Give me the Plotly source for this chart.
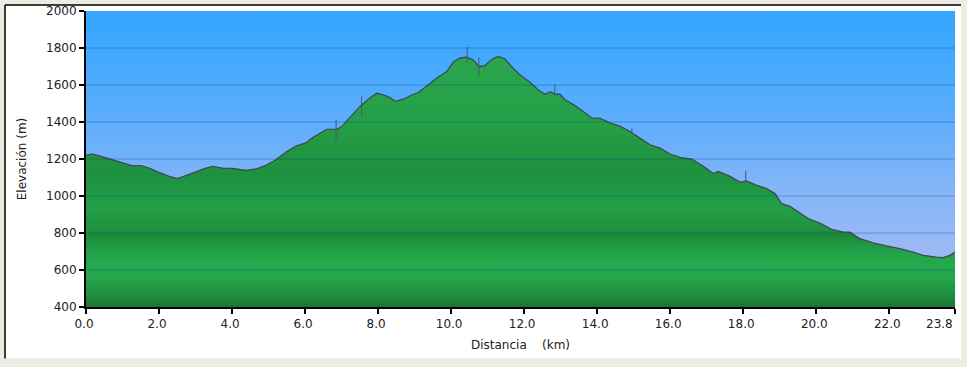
import plotly.graph_objects as go

# ---- data ----
dist_km = [0.0, 0.18, 0.46, 0.73, 1.0, 1.23, 1.51, 1.73, 2.0, 2.28, 2.51, 2.74, 3.01, 3.24, 3.47,
           3.74, 4.02, 4.38, 4.65, 4.93, 5.2, 5.48, 5.75, 6.03, 6.2, 6.41, 6.59, 6.87, 7.0, 7.23,
           7.5, 7.73, 7.96, 8.14, 8.33, 8.46, 8.69, 8.92, 9.1, 9.33, 9.6, 9.88, 10.06, 10.25,
           10.42, 10.6, 10.76, 10.92, 11.1, 11.28, 11.47, 11.65, 11.88, 12.16, 12.39, 12.57,
           12.71, 12.84, 12.98, 13.12, 13.35, 13.62, 13.85, 14.08, 14.35, 14.63, 14.9, 15.17,
           15.45, 15.72, 16.0, 16.27, 16.59, 16.91, 17.18, 17.32, 17.64, 17.91, 18.09, 18.37,
           18.64, 18.87, 19.05, 19.28, 19.51, 19.78, 20.1, 20.42, 20.74, 20.92, 21.19, 21.56,
           21.92, 22.29, 22.65, 22.93, 23.29, 23.47, 23.66, 23.8]
elev_m = [1220, 1228, 1212, 1196, 1182, 1166, 1164, 1151, 1128, 1106, 1094, 1112, 1130, 1148, 1160,
          1151, 1149, 1138, 1146, 1166, 1196, 1238, 1270, 1288, 1315, 1341, 1360, 1362, 1374, 1425,
          1483, 1523, 1555, 1546, 1532, 1512, 1523, 1546, 1559, 1595, 1637, 1673, 1724, 1746,
          1750, 1736, 1700, 1704, 1736, 1754, 1742, 1700, 1655, 1615, 1573, 1550,
          1564, 1551, 1550, 1520, 1494, 1457, 1422, 1420, 1395, 1376, 1349, 1313,
          1277, 1259, 1227, 1209, 1200, 1160, 1121, 1133, 1106, 1075, 1081, 1058,
          1040, 1013, 959, 944, 914, 878, 854, 820, 805, 804, 770, 746,
          730, 716, 697, 679, 670, 667, 679, 697]

# GPS spikes (thin vertical marks)
spike_km = [6.85, 7.55, 10.44, 10.76, 12.84, 14.95, 18.07]
spike_low = [1300, 1432, 1718, 1643, 1546, 1345, 1080]
spike_high = [1410, 1540, 1805, 1751, 1604, 1365, 1135]

x_tickvals = [0.0, 2.0, 4.0, 6.0, 8.0, 10.0, 12.0, 14.0, 16.0, 18.0, 20.0, 22.0, 23.8]
x_ticktext = ["0.0", "2.0", "4.0", "6.0", "8.0", "10.0", "12.0", "14.0", "16.0", "18.0",
              "20.0", "22.0", "23.8"]
y_tickvals = [400, 600, 800, 1000, 1200, 1400, 1600, 1800, 2000]

x_range = [0.0, 23.8]
y_range = [400, 2000]

FONT = "DejaVu Sans"
NB = "\u00a0"
TXT = "#222222"

# the last label (axis end) is right-aligned to its tick, drawn as an annotation
x_ticklabels = x_ticktext[:-1] + [""]

fig = go.Figure()

# sky background (vertical gradient over the whole plot area)
fig.add_trace(go.Scatter(
    x=x_range, y=[y_range[1], y_range[1]], mode="none", fill="tozeroy",
    fillgradient=dict(type="vertical", start=y_range[0], stop=y_range[1],
                      colorscale=[[0.0, "#aabdf0"], [0.2, "#9ab9f3"], [0.4, "#84b5f7"],
                                  [0.6, "#62aefb"], [0.8, "#48aafd"], [1.0, "#33a6ff"]]),
    hoverinfo="skip", showlegend=False))

# terrain profile
fig.add_trace(go.Scatter(
    x=dist_km, y=elev_m, mode="lines", fill="tozeroy",
    line=dict(color="#3e4b52", width=1.3),
    fillgradient=dict(type="vertical", start=y_range[0], stop=y_range[1],
                      colorscale=[[0.0, "#1a7632"], [0.035, "#1e8a3c"], [0.1, "#24a74c"],
                                  [0.14, "#25aa4d"], [0.19, "#22a048"], [0.245, "#1c893b"],
                                  [0.26, "#1f913f"], [0.34, "#22a047"], [0.375, "#209a44"],
                                  [0.45, "#1e9140"], [0.53, "#21963f"], [0.625, "#24a049"],
                                  [0.75, "#27a34b"], [0.875, "#2da74f"], [1.0, "#33aa55"]]),
    hoverinfo="skip", showlegend=False))

# spikes
sx, sy = [], []
for k, lo, hi in zip(spike_km, spike_low, spike_high):
    sx += [k, k, None]
    sy += [lo, hi, None]
fig.add_trace(go.Scatter(x=sx, y=sy, mode="lines", line=dict(color="#4a5868", width=1),
                         hoverinfo="skip", showlegend=False))

# panel (white card with black top/left border) and gridlines
shapes = [
    dict(type="rect", xref="paper", yref="paper", x0=-0.0932, x1=1.0069, y0=-0.1737, y1=1.0202,
         fillcolor="white", line=dict(width=0), layer="below"),
    dict(type="line", xref="paper", yref="paper", x0=-0.0932, x1=1.0069, y0=1.0202, y1=1.0202,
         line=dict(color="black", width=1.5), layer="below"),
    dict(type="line", xref="paper", yref="paper", x0=-0.0932, x1=-0.0932, y0=-0.1737, y1=1.0202,
         line=dict(color="black", width=1.5), layer="below"),
]
for v in y_tickvals[1:-1]:
    shapes.append(dict(type="line", xref="paper", yref="y", x0=0, x1=1, y0=v, y1=v,
                       line=dict(color="rgba(0,55,130,0.32)", width=1), layer="above"))

annotations = [dict(x=x_tickvals[-1], y=0, xref="x", yref="paper", text=x_ticktext[-1],
                    showarrow=False, xanchor="right", yanchor="top", xshift=0, yshift=-8,
                    font=dict(family=FONT, size=12, color=TXT))]

fig.update_layout(
    width=967, height=367, autosize=False,
    margin=dict(l=86, r=12, t=11, b=60, autoexpand=False),
    paper_bgcolor="#eeebe2", plot_bgcolor="rgba(0,0,0,0)",
    font=dict(family=FONT, size=12, color=TXT),
    shapes=shapes, annotations=annotations,
    xaxis=dict(range=x_range, tickvals=x_tickvals, ticktext=x_ticklabels, automargin=False,
               ticklabelshift=-2,
               showgrid=False, zeroline=False, showline=True, linecolor="black", linewidth=2,
               ticks="outside", ticklen=5, tickwidth=2, tickcolor="black",
               layer="above traces", tickfont=dict(family=FONT, size=12, color=TXT),
               title=dict(text="Distancia" + NB * 4 + "(km)", standoff=10,
                          font=dict(family=FONT, size=12, color=TXT))),
    yaxis=dict(range=y_range, tickvals=y_tickvals, showgrid=False, zeroline=False,
               automargin=False,
               showline=True, linecolor="black", linewidth=2,
               ticks="outside", ticklen=5, tickwidth=2, tickcolor="black",
               layer="above traces", tickfont=dict(family=FONT, size=12, color=TXT),
               title=dict(text="Elevación (m)", standoff=17,
                          font=dict(family=FONT, size=12, color=TXT))),
)

fig.write_html("out.html", config={"displayModeBar": False},
               post_script="document.body.style.margin='0';document.body.style.overflow='hidden';")
